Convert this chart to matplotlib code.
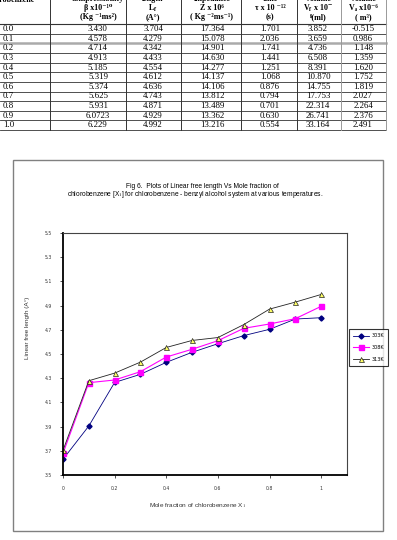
import matplotlib
matplotlib.use("Agg")
import matplotlib.pyplot as plt
from matplotlib.patches import Rectangle

plt.rcParams["mathtext.fontset"] = "stix"

# table data (values as printed)
x1 = ["0.0", "0.1", "0.2", "0.3", "0.4", "0.5", "0.6", "0.7", "0.8", "0.9", "1.0"]
beta = ["3.430", "4.578", "4.714", "4.913", "5.185", "5.319", "5.374", "5.625", "5.931", "6.0723", "6.229"]
lf = ["3.704", "4.279", "4.342", "4.433", "4.554", "4.612", "4.636", "4.743", "4.871", "4.929", "4.992"]
z = ["17.364", "15.078", "14.901", "14.630", "14.277", "14.137", "14.106", "13.812", "13.489", "13.362", "13.216"]
tau = ["1.701", "2.036", "1.741", "1.441", "1.251", "1.068", "0.876", "0.794", "0.701", "0.630", "0.554"]
vf = ["3.852", "3.659", "4.736", "6.508", "8.391", "10.870", "14.755", "17.753", "22.314", "26.741", "33.164"]
va = ["-0.515", "0.986", "1.148", "1.359", "1.620", "1.752", "1.819", "2.027", "2.264", "2.376", "2.491"]

headers = [
    ["compressibility", "β x10⁻¹⁰", "(Kg ⁻¹ms²)"],
    ["length", r"L$_{\mathbf{f}}$", "(A°)"],
    ["impedance", "Z x 10⁶", "( Kg ⁻²ms⁻¹)"],
    ["time", "τ x 10 ⁻¹²", "(s)"],
    ["volume", r"V$_{\mathbf{f}}$ x 10$^{\mathbf{-}}$", "⁸(ml)"],
    ["volume", "Vₐ x10⁻⁶", "( m³)"],
]
header_y = [-1.0, 8.3, 16.8]

# chart data
mole_frac = [0.0, 0.1, 0.2, 0.3, 0.4, 0.5, 0.6, 0.7, 0.8, 0.9, 1.0]
lf_303 = [3.63, 3.905, 4.265, 4.332, 4.431, 4.514, 4.585, 4.652, 4.704, 4.789, 4.800]
lf_308 = [3.679, 4.263, 4.285, 4.354, 4.475, 4.539, 4.610, 4.712, 4.748, 4.792, 4.894]
lf_313 = [float(v) for v in lf]
temps = ["303K", "308K", "313K"]
yticks = [3.5, 3.7, 3.9, 4.1, 4.3, 4.5, 4.7, 4.9, 5.1, 5.3, 5.5]
xticks = [0, 0.2, 0.4, 0.6, 0.8, 1.0]
xtick_labels = ["0", "0.2", "0.4", "0.6", "0.8", "1"]

W, H = 397, 540
fig = plt.figure(figsize=(W / 100, H / 100), dpi=100)
fig.patch.set_facecolor("white")

bg = fig.add_axes([0, 0, 1, 1])
bg.set_xlim(0, W)
bg.set_ylim(H, 0)
bg.axis("off")

# ---- table ----
serif = ["Liberation Serif", "DejaVu Serif"]
col_edges = [50, 126, 181, 241, 297, 341, 386]
col_centers = [98, 153, 212, 270, 318, 363]
row_y = [29 + i * 9.63 for i in range(len(x1))]

bg.text(35, 0.0, "chlorobenzene", ha="right", va="center", fontsize=5.8,
        family=serif, weight="bold")
for j, hdr in enumerate(headers):
    for k, line in enumerate(hdr):
        bg.text(col_centers[j], header_y[k], line, ha="center", va="center",
                fontsize=5.8, family=serif, weight="bold")

cols = [beta, lf, z, tau, vf, va]
for i in range(len(x1)):
    bg.text(3, row_y[i], x1[i], ha="left", va="center", fontsize=6.3, family=serif)
    for c, vals in enumerate(cols):
        bg.text(col_centers[c], row_y[i], vals[i], ha="center", va="center",
                fontsize=6.3, family=serif)

bg.plot([0, 386], [23.5, 23.5], color="#333333", lw=0.8)
for i in range(len(x1)):
    yy = row_y[i] + 4.8
    if i == 1:
        bg.plot([0, 386], [yy, yy], color="#aaaaaa", lw=1.8)
    else:
        bg.plot([0, 386], [yy, yy], color="#333333", lw=0.6)
for xe in col_edges:
    color = "#999999" if xe in (341, 386) else "#333333"
    bg.plot([xe, xe], [0, 130], color=color, lw=0.7)

# ---- chart box ----
bg.add_patch(Rectangle((13, 160), 370, 371, fill=False, edgecolor="#808080", lw=1.0))

sans = "Liberation Sans"
bg.text(202, 186, "Fig 6.  Plots of Linear free length Vs Mole fraction of",
        ha="center", va="center", fontsize=4.8, family=sans)
bg.text(195, 194, "chlorobenzene [X$_1$] for chlorobenzene - benzyl alcohol system at various temperatures.",
        ha="center", va="center", fontsize=4.8, family=sans)

ax = fig.add_axes([63 / W, (H - 475) / H, (347 - 63) / W, (475 - 233) / H])
ax.plot(mole_frac, lf_303, color="#000080", lw=0.6, marker="D", ms=2.6,
        mfc="#000080", mec="#000080", label=temps[0])
ax.plot(mole_frac, lf_308, color="#ff00ff", lw=0.8, marker="s", ms=3.6,
        mfc="#ff00ff", mec="#ff00ff", label=temps[1])
ax.plot(mole_frac, lf_313, color="#222222", lw=0.6, marker="^", ms=3.6,
        mfc="#ffff66", mec="#222222", mew=0.5, label=temps[2])

ax.set_xlim(0, 1.1)
ax.set_ylim(3.5, 5.5)
ax.set_xticks(xticks)
ax.set_xticklabels(xtick_labels)
ax.set_yticks(yticks)
ax.set_yticklabels([f"{v:.1f}" for v in yticks])
ax.tick_params(labelsize=3.3, length=2, width=0.6, pad=6, colors="#333333")
for s in ax.spines.values():
    s.set_linewidth(0.8)
    s.set_color("#444444")
ax.spines["left"].set_linewidth(1.3)
ax.spines["bottom"].set_linewidth(1.3)
ax.spines["left"].set_color("black")
ax.spines["bottom"].set_color("black")

bg.text(28, 328, "Linear free length (A°)", rotation=90, ha="center", va="center",
        fontsize=4.6, family=sans, color="#333333")
bg.text(198, 506, "Mole fraction of chlorobenzene X$_1$", ha="center", va="center",
        fontsize=4.6, family=sans, color="#333333")

leg = fig.legend(loc="upper left", bbox_to_anchor=(347 / W, 1 - 327 / H),
                 fontsize=3.5, frameon=True, fancybox=False, edgecolor="black",
                 handlelength=3.2, borderpad=0.8, labelspacing=1.4, handletextpad=0.5)
leg.get_frame().set_linewidth(0.8)

fig.savefig("out.png", dpi=100)
